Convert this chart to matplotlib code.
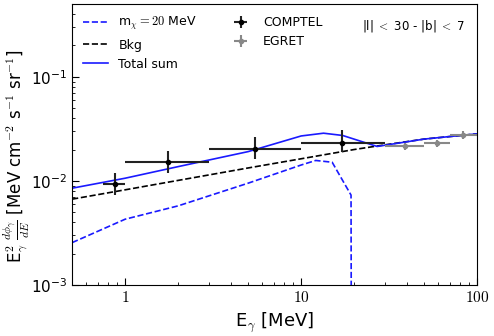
import numpy as np
import matplotlib
matplotlib.use('Agg')
import matplotlib.pyplot as plt

plt.rcParams['mathtext.fontset'] = 'cm'
plt.rcParams['font.family'] = ['DejaVu Sans']

# COMPTEL points (E, flux, E-range, flux-range)
comptel_e = [0.88, 1.75, 5.48, 17.0]
comptel_f = [0.0094, 0.0152, 0.0203, 0.0233]
comptel_elo = [0.75, 1.0, 3.0, 10.0]
comptel_ehi = [1.0, 3.0, 10.0, 30.0]
comptel_flo = [0.0073, 0.0120, 0.0162, 0.0189]
comptel_fhi = [0.0119, 0.0195, 0.0263, 0.0310]

# EGRET points
egret_e = [39.0, 59.0, 83.0]
egret_f = [0.0214, 0.0230, 0.0277]
egret_elo = [30.0, 50.0, 70.0]
egret_ehi = [50.0, 70.0, 100.0]
egret_ferr = [0.0018, 0.0019, 0.0026]

# model curves
dm_e = [0.5, 1.0, 2.0, 5.0, 10.0, 12.1, 15.0, 19.2, 19.4]
dm_f = [0.00255, 0.00428, 0.00575, 0.0095, 0.0142, 0.0157, 0.0151, 0.0073, 1e-6]

bkg_e = [0.5, 1.0, 2.0, 5.0, 10.0, 20.0, 30.0, 50.0, 100.0]
bkg_f = [0.00667, 0.0082, 0.0101, 0.0133, 0.0163, 0.0200, 0.0222, 0.0252, 0.0283]

tot_e = [0.5, 1.0, 2.0, 5.0, 10.0, 13.4, 17.2, 27.0, 50.0, 100.0]
tot_f = [0.0085, 0.0106, 0.0137, 0.0191, 0.027, 0.0287, 0.0273, 0.0214, 0.0252, 0.0283]

fig = plt.figure(figsize=(4.94, 3.36), dpi=100)
ax = fig.add_axes([0.146, 0.152, 0.82, 0.836])

l1, = ax.plot(dm_e, dm_f, '--', color='#1a1aff', lw=1.2, label=r'm$_\chi = 20$ MeV')
l2, = ax.plot(bkg_e, bkg_f, '--', color='k', lw=1.2, label='Bkg')
l3, = ax.plot(tot_e, tot_f, '-', color='#1a1aff', lw=1.2, label='Total sum')

ce = np.array(comptel_e)
cf = np.array(comptel_f)
xerr_c = [ce - np.array(comptel_elo), np.array(comptel_ehi) - ce]
yerr_c = [cf - np.array(comptel_flo), np.array(comptel_fhi) - cf]
e1 = ax.errorbar(ce, cf, xerr=xerr_c, yerr=yerr_c, fmt='o', ms=3,
                 color='k', ecolor='#222222', elinewidth=1.5, capsize=0, label='COMPTEL')

ee = np.array(egret_e)
xerr_e = [ee - np.array(egret_elo), np.array(egret_ehi) - ee]
e2 = ax.errorbar(ee, egret_f, xerr=xerr_e, yerr=egret_ferr, fmt='o', ms=3,
                 color='#888888', ecolor='#888888', elinewidth=1.5, capsize=0, label='EGRET')

ax.set_xscale('log')
ax.set_yscale('log')
ax.set_xlim(0.5, 100)
ax.set_ylim(1e-3, 0.5)

ax.xaxis.set_major_formatter(matplotlib.ticker.FuncFormatter(
    lambda v, p: r'$%d$' % round(v)))
ax.tick_params(which='both', direction='in', labelsize=11)
ax.tick_params(which='major', length=5)
ax.tick_params(which='minor', length=2.5)

ax.set_xlabel(r'E$_\gamma$ [MeV]', fontsize=13)
ax.set_ylabel(r'E$_\gamma^2$ $\frac{d\phi_\gamma}{dE}$ [MeV cm$^{-2}$ s$^{-1}$ sr$^{-1}$]', fontsize=12)
ax.yaxis.set_label_coords(-0.1, 0.46)

ax.legend(handles=[l1, l2, l3, e1, e2], ncol=2, frameon=False, fontsize=9,
          loc='upper left', columnspacing=2.5)
ax.text(0.97, 0.95, r'|l| $<$ 30 - |b| $<$ 7', transform=ax.transAxes,
        ha='right', va='top', fontsize=8.5)

fig.savefig('out.png', dpi=100)
